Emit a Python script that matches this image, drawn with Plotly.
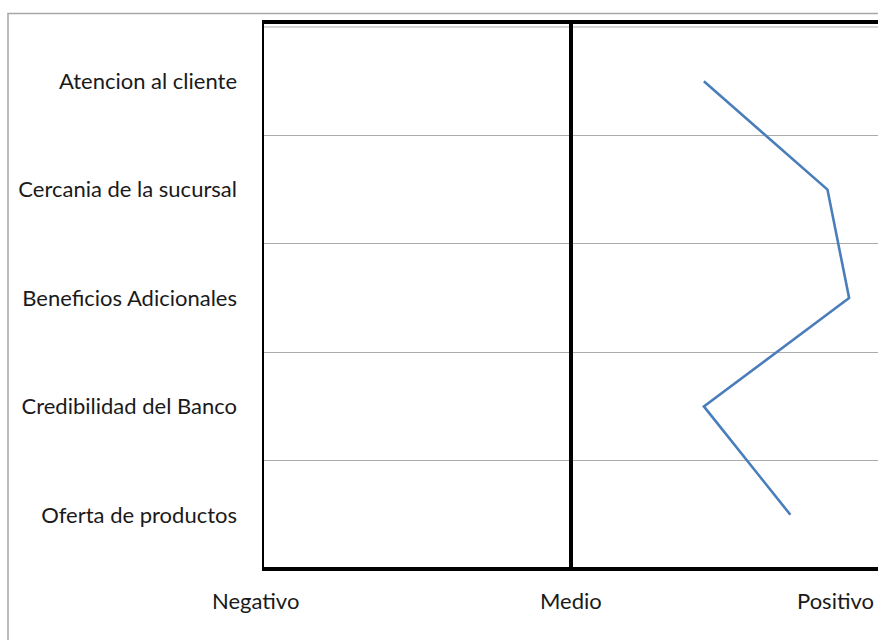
import plotly.graph_objects as go

# Evaluation attributes (top to bottom) and their average score (1 = Negativo, 2 = Medio, 3 = Positivo)
atributos = [
    "Atencion al cliente",
    "Cercania de la sucursal",
    "Beneficios Adicionales",
    "Credibilidad del Banco",
    "Oferta de productos",
]
puntaje = [2.43, 2.83, 2.90, 2.43, 2.71]

# Scale labels along the horizontal axis
escala_valores = [1, 2, 3]
escala_textos = ["Negativo", "Medio", "Positivo"]

FONT = "Lato"
W, H = 878, 640
L, R, T, B = 262, 0, 27, 71

fig = go.Figure()
fig.add_trace(go.Scatter(
    x=puntaje,
    y=atributos,
    mode="lines",
    line=dict(color="#4A7EBB", width=2.6),
    hoverinfo="skip",
    showlegend=False,
))

plot_w = W - L - R
x_max = 1 + plot_w / 309.0

fig.update_layout(
    width=W,
    height=H,
    margin=dict(l=L, r=R, t=T, b=B, pad=0),
    paper_bgcolor="white",
    plot_bgcolor="white",
    font=dict(family=FONT, size=22, color="#1a1a1a"),
    xaxis=dict(
        range=[1, x_max],
        showgrid=False,
        zeroline=False,
        showticklabels=False,
        ticks="",
        fixedrange=True,
    ),
    yaxis=dict(
        type="category",
        categoryorder="array",
        categoryarray=atributos,
        autorange=False,
        range=[len(atributos) - 0.5, -0.5],
        tickson="boundaries",
        showgrid=True,
        gridcolor="#ababab",
        gridwidth=1,
        zeroline=False,
        ticks="",
        ticklabelstandoff=24,
        tickfont=dict(family=FONT, size=22, color="#1a1a1a"),
        fixedrange=True,
    ),
)

# Scale labels under the plot (placed in paper units from the scale value)
def to_paper(v):
    return (v - 1) / (x_max - 1)

shifts = {"Negativo": -7, "Medio": 0, "Positivo": -4}
anchors = {"Negativo": "center", "Medio": "center", "Positivo": "right"}
for v, t in zip(escala_valores, escala_textos):
    fig.add_annotation(
        x=to_paper(v), y=0, xref="paper", yref="paper",
        text=t, showarrow=False,
        xanchor=anchors[t], yanchor="top",
        yshift=-16, xshift=shifts[t],
        font=dict(family=FONT, size=22, color="#1a1a1a"),
    )

plot_h = H - T - B
def py(pix):
    return (H - B - pix) / plot_h

# Outer chart border (light gray)
fig.add_shape(type="rect", xref="paper", yref="paper",
              x0=(8 - L) / plot_w, x1=1.2, y0=-0.3, y1=py(13.5),
              line=dict(color="#a6a6a6", width=1.5), layer="below")

# Top gridline just under the heavy frame
fig.add_shape(type="line", xref="paper", yref="paper",
              x0=0, x1=1.01, y0=1, y1=1,
              line=dict(color="#ababab", width=1))

# Heavy black frame: top, bottom, left and the middle reference line
black = dict(color="black", width=4)
fig.add_shape(type="line", xref="paper", yref="paper",
              x0=0, x1=1.01, y0=py(22), y1=py(22), line=black)
fig.add_shape(type="line", xref="paper", yref="paper",
              x0=0, x1=1.01, y0=0, y1=0, line=black)
fig.add_shape(type="line", xref="x", yref="paper",
              x0=1, x1=1, y0=0, y1=py(22), line=black)
fig.add_shape(type="line", xref="x", yref="paper",
              x0=2, x1=2, y0=0, y1=py(22), line=black)

fig.write_html("out.html")
